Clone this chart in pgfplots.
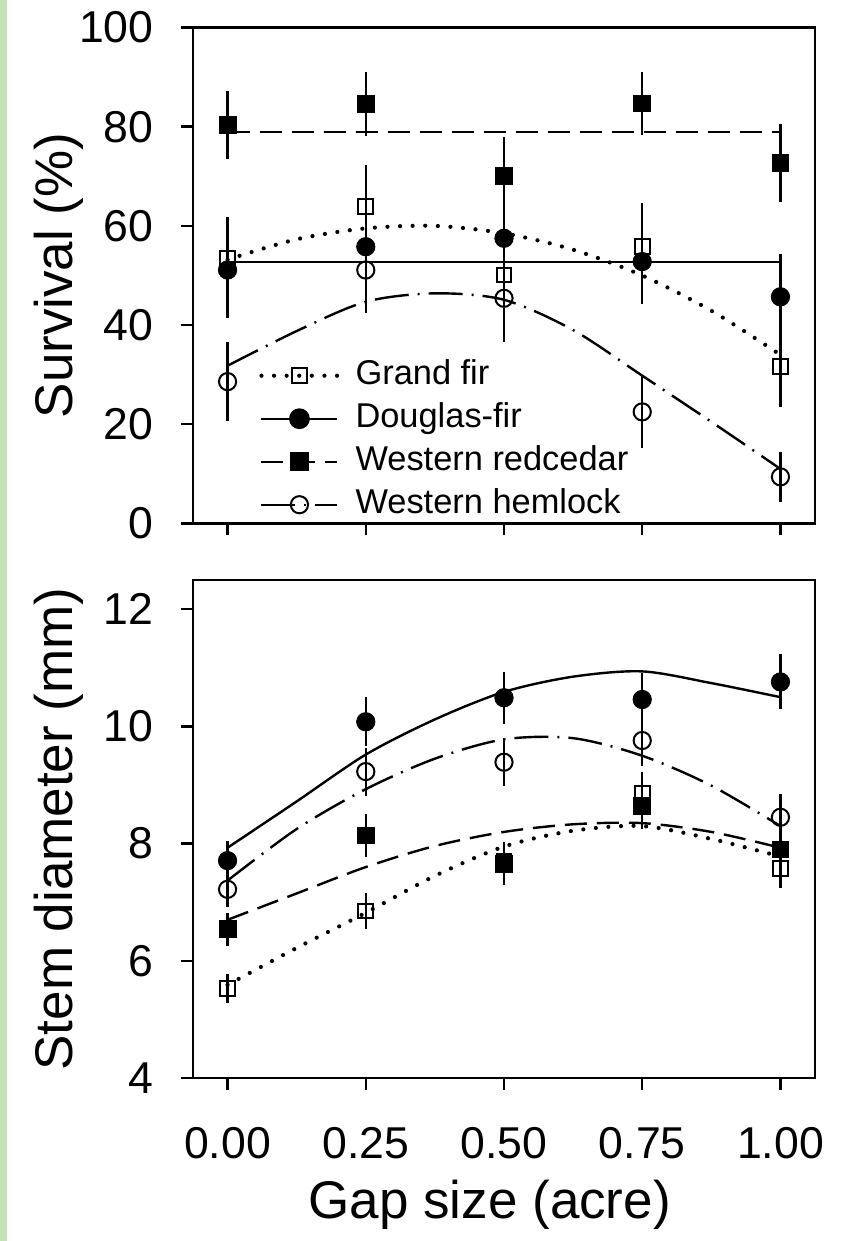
\documentclass[border=0pt]{standalone}
\usepackage{fontspec}
\setmainfont{Liberation Sans}
\usepackage{pgfplots}
\pgfplotsset{compat=1.18}
\definecolor{stripgreen}{RGB}{197,224,180}

\pgfplotsset{
  gapaxis/.style={
    scale only axis, width=311pt,
    xmin=-0.0625, xmax=1.0625,
    xtick={0,0.25,0.5,0.75,1},
    tick pos=left, tick align=outside,
    major tick length=6pt,
    axis line style={line width=1.2pt},
    every tick/.style={black, line width=1.2pt},
    /pgf/number format/assume math mode=true,
    tick label style={font=\fontsize{22.3}{25}\selectfont},
    label style={font=\fontsize{26.5}{30}\selectfont},
    yticklabel style={inner sep=0pt, xshift=-13.5pt},
    xticklabel style={inner sep=0pt, yshift=-18.5pt},
    ylabel style={at={(axis description cs:-0.215,0.5)}, anchor=center},
    clip=false,
  },
  legline/.style={black, line width=1.2pt},
  fitline/.style={legline, no markers, smooth},
  gf line/.style={dash pattern=on 0pt off 6.3pt, line cap=round, line width=2.1pt},
  rc line/.style={dash pattern=on 11pt off 5pt},
  wh line/.style={dash pattern=on 17pt off 4.5pt on 1pt off 4.5pt},
  pts/.style={only marks, black,
    error bars/y dir=both, error bars/y explicit, error bars/error mark=none,
    error bars/error bar style={line width=1.2pt, solid}},
  gf mark/.style={mark=square, mark size=3.7pt, mark options={solid, line width=1pt, fill=none}},
  df mark/.style={mark=*, mark size=4.6pt, mark options={solid, fill=black}},
  rc mark/.style={mark=square*, mark size=4.2pt, mark options={solid, fill=black}},
  wh mark/.style={mark=o, mark size=4.3pt, mark options={solid, line width=1pt, fill=none}},
}

\begin{document}
\begin{tikzpicture}
\fill[white] (0,0) rectangle (428pt,620.5pt);
\fill[stripgreen] (0,0) rectangle (3.5pt,620.5pt);
\path[use as bounding box] (0,0) rectangle (428pt,620.5pt);

% survival
\begin{axis}[gapaxis, at={(96.5pt,606.75pt)}, anchor=north west,
    height=248pt, ymin=0, ymax=100, ytick={0,20,...,100},
    xticklabels={},
    ylabel={Survival (\%)},
    legend style={draw=none, fill=none, inner sep=0pt,
      font=\fontsize{17.2}{20}\selectfont,
      at={(rel axis cs:0.106,0.331)}, anchor=north west,
      nodes={inner sep=0pt, text height=12.5pt, text depth=3.5pt},
      row sep=5.5pt,
      /tikz/every odd column/.append style={column sep=8pt}},
    legend cell align=left,
    legend image code/.code={\draw[mark repeat=2, mark phase=2, #1]
      plot coordinates {(0pt,0pt) (19pt,0pt) (38pt,0pt)};},
  ]
  \addlegendimage{legline, gf line, gf mark}
  \addlegendentry{Grand fir}
  \addlegendimage{legline, df mark}
  \addlegendentry{Douglas-fir}
  \addlegendimage{legline, rc line, rc mark}
  \addlegendentry{Western redcedar}
  \addlegendimage{legline, wh line, wh mark}
  \addlegendentry{Western hemlock}

  % fitted lines
  \addplot[fitline, gf line, forget plot] coordinates {
    (0,53.2) (0.125,57.3) (0.25,59.5) (0.375,60.0) (0.5,58.5)
    (0.625,55.2) (0.75,50.0) (0.875,42.9) (1,34.0)};
  \addplot[fitline, forget plot] coordinates {(0,52.7) (1,52.7)};
  \addplot[fitline, rc line, forget plot] coordinates {(0,78.9) (1,78.9)};
  \addplot[fitline, wh line, forget plot] coordinates {
    (0,31.8) (0.125,38.8) (0.25,44.7) (0.375,46.4) (0.5,45.1)
    (0.625,39.0) (0.75,29.8) (0.875,20.5) (1,11.0)};

  % means and error bars
  \addplot[pts, gf mark, forget plot] table[x=x, y=y, y error=e] {
    x y e
    0 53.5 8.3
    0.25 63.9 8.3
    0.5 50.1 8.5
    0.75 55.8 8.8
    1 31.6 8.2
  };
  \addplot[pts, df mark, forget plot] table[x=x, y=y, y error=e] {
    x y e
    0 51.1 9.6
    0.25 55.8 8.6
    0.5 57.5 8.6
    0.75 52.8 8.5
    1 45.7 8.6
  };
  \addplot[pts, rc mark, forget plot] table[x=x, y=y, y error=e] {
    x y e
    0 80.3 6.9
    0.25 84.6 6.4
    0.5 70.1 7.9
    0.75 84.7 6.4
    1 72.7 7.8
  };
  \addplot[pts, wh mark, forget plot] table[x=x, y=y, y error=e] {
    x y e
    0 28.6 7.9
    0.25 51.1 8.7
    0.5 45.4 8.9
    0.75 22.5 7.3
    1 9.4 5.0
  };
\end{axis}

% stem diameter
\begin{axis}[gapaxis, at={(96.5pt,330.5pt)}, anchor=north west,
    height=249pt, ymin=4, ymax=12.5, ytick={4,6,8,10,12},
    xticklabel={\pgfmathprintnumber[fixed,fixed zerofill,precision=2]{\tick}},
    ylabel={Stem diameter (mm)},
    xlabel={Gap size (acre)},
    xlabel style={at={(axis description cs:0.477,-0.255)}, anchor=center},
  ]
  \addplot[fitline, gf line] coordinates {
    (0,5.59) (0.125,6.22) (0.25,6.82) (0.375,7.45) (0.5,7.95)
    (0.625,8.22) (0.75,8.30) (0.875,8.08) (1,7.78)};
  \addplot[fitline] coordinates {
    (0,7.93) (0.125,8.72) (0.25,9.52) (0.375,10.12) (0.5,10.59)
    (0.625,10.85) (0.75,10.94) (0.875,10.74) (1,10.50)};
  \addplot[fitline, rc line] coordinates {
    (0,6.70) (0.125,7.15) (0.25,7.60) (0.375,7.96) (0.5,8.20)
    (0.625,8.33) (0.75,8.35) (0.875,8.20) (1,7.93)};
  \addplot[fitline, wh line] coordinates {
    (0,7.37) (0.125,8.25) (0.25,8.93) (0.375,9.45) (0.5,9.78)
    (0.625,9.80) (0.75,9.50) (0.875,8.99) (1,8.30)};

  \addplot[pts, gf mark] table[x=x, y=y, y error=e] {
    x y e
    0 5.53 0.25
    0.25 6.85 0.30
    0.5 7.70 0.33
    0.75 8.85 0.37
    1 7.57 0.32
  };
  \addplot[pts, df mark] table[x=x, y=y, y error=e] {
    x y e
    0 7.71 0.34
    0.25 10.08 0.42
    0.5 10.49 0.44
    0.75 10.46 0.46
    1 10.76 0.47
  };
  \addplot[pts, rc mark] table[x=x, y=y, y error=e] {
    x y e
    0 6.54 0.28
    0.25 8.14 0.36
    0.5 7.66 0.37
    0.75 8.65 0.40
    1 7.90 0.33
  };
  \addplot[pts, wh mark] table[x=x, y=y, y error=e] {
    x y e
    0 7.22 0.30
    0.25 9.23 0.41
    0.5 9.39 0.41
    0.75 9.76 0.43
    1 8.45 0.40
  };
\end{axis}
\end{tikzpicture}
\end{document}
